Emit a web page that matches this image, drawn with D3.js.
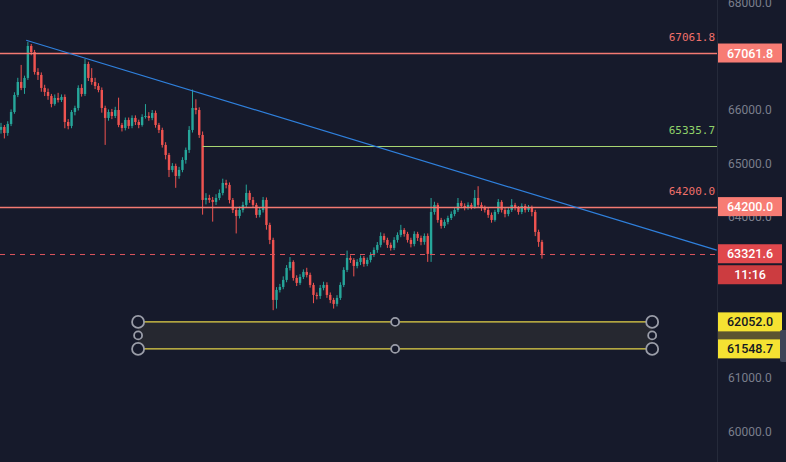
<!DOCTYPE html>
<html>
<head>
<meta charset="utf-8">
<script src="https://cdn.jsdelivr.net/npm/d3@7"></script>
<style>
  html, body { margin: 0; padding: 0; background: #161a2b; }
  svg { display: block; }
</style>
</head>
<body>
<div id="chart"></div>
<script>
// candles, open of first bar then each bar opens at previous close
const firstOpen = 65630;
const close = [
  65684, 65572, 65740, 65963, 66280, 66522, 66411, 66597, 67193, 67081,
  66709, 66653, 66411, 66336, 66262, 66113, 66224, 66187, 66243, 65777,
  65703, 65963, 66038, 66411, 66299, 66858, 66597, 66522, 66448, 66373,
  66038, 65852, 65963, 65889, 66000, 65721, 65665, 65814, 65703, 65852,
  65777, 65721, 65870, 65889, 65852, 65945, 65721, 65628, 65349, 65162,
  64883, 64957, 64771, 64883, 65069, 65256, 65628, 66038, 66000, 65535,
  64324, 64361, 64324, 64287, 64361, 64454, 64641, 64604, 64324, 64138,
  64026, 64138, 64231, 64454, 64324, 64231, 64045, 64138, 64324, 63858,
  63579, 62461, 62647, 62703, 62834, 63057, 63169, 62871, 62778, 62890,
  62983, 62927, 62740, 62554, 62535, 62685, 62740, 62554, 62461, 62387,
  62498, 62740, 63020, 63244, 63206, 63094, 63169, 63244, 63132, 63206,
  63300, 63393, 63486, 63653, 63579, 63486, 63430, 63579, 63672, 63765,
  63691, 63579, 63504, 63691, 63616, 63542, 63653, 63318, 64100, 64231,
  63951, 63840, 63914, 63988, 64063, 64138, 64268, 64212, 64175, 64231,
  64194, 64361, 64231, 64175, 64138, 64045, 63951, 64100, 64287, 64138,
  64063, 64138, 64231, 64175, 64100, 64212, 64138, 64175, 64100, 63728,
  63542, 63321.6
];
const high = [
  65760, 65720, 65790, 66010, 66330, 66600, 66840, 66640, 67270, 67230,
  67120, 66780, 66700, 66470, 66400, 66300, 66290, 66320, 66290, 66290,
  65830, 66000, 66080, 66460, 66480, 66950, 66900, 66780, 66600, 66500,
  66420, 66080, 66010, 66020, 66060, 66230, 65760, 65860, 65860, 65900,
  65900, 65820, 65920, 66110, 65960, 66000, 65990, 65760, 65670, 65400,
  65200, 65010, 65000, 64940, 65120, 65300, 65700, 66380, 66200, 66050,
  65600, 64450, 64420, 64380, 64430, 64520, 64720, 64700, 64650, 64360,
  64180, 64200, 64290, 64610, 64500, 64380, 64270, 64190, 64380, 64370,
  63900, 63620, 62700, 62760, 62900, 63110, 63260, 63200, 62920, 62940,
  63030, 63060, 62970, 62780, 62600, 62740, 62800, 62790, 62600, 62500,
  62550, 62790, 63070, 63380, 63290, 63240, 63220, 63290, 63280, 63250,
  63350, 63440, 63540, 63720, 63700, 63620, 63530, 63630, 63720, 63860,
  63800, 63730, 63620, 63740, 63730, 63660, 63700, 63700, 64360, 64290,
  64270, 63990, 63960, 64030, 64110, 64180, 64360, 64310, 64260, 64280,
  64270, 64510, 64580, 64280, 64220, 64180, 64090, 64140, 64340, 64320,
  64180, 64190, 64340, 64270, 64210, 64260, 64250, 64230, 64220, 64140,
  63770, 63580
];
const low = [
  65560, 65470, 65520, 65700, 65930, 66240, 66370, 66300, 66560, 67020,
  66660, 66560, 66340, 66260, 66190, 66050, 66080, 66140, 66150, 65660,
  65640, 65660, 65900, 65990, 66250, 66260, 66540, 66470, 66390, 66330,
  65950, 65350, 65800, 65830, 65850, 65680, 65600, 65620, 65650, 65660,
  65720, 65660, 65690, 65840, 65800, 65810, 65670, 65570, 65300, 65080,
  64750, 64840, 64550, 64720, 64840, 65000, 65200, 65580, 65920, 65480,
  64050, 64240, 64270, 63920, 64230, 64320, 64410, 64540, 64260, 64080,
  63700, 63980, 64090, 64190, 64270, 64180, 63990, 64000, 64090, 63770,
  63500, 62270, 62300, 62600, 62660, 62790, 63010, 62820, 62720, 62740,
  62850, 62880, 62690, 62400, 62470, 62480, 62640, 62500, 62400, 62300,
  62340, 62460, 62700, 62980, 63150, 62900, 63050, 63110, 63080, 63090,
  63160, 63260, 63340, 63440, 63530, 63430, 63380, 63390, 63530, 63630,
  63640, 63530, 63440, 63460, 63560, 63480, 63490, 63170, 63170, 64050,
  63900, 63790, 63800, 63870, 63950, 64020, 64100, 64170, 64130, 64140,
  64150, 64160, 64190, 64120, 64090, 63990, 63900, 63920, 64060, 64090,
  64000, 64020, 64100, 64130, 64050, 64060, 64090, 64100, 64020, 63650,
  63450, 63230
];

// price scale ticks (67000, 63000, 62000 sit under the tags)
const ticks = [68000, 66000, 65000, 64000, 61000, 60000];

// drawings
const resistA = 67061.8;
const resistB = 64200.0;
const greenLevel = 65335.7;
const greenStart = 60;          // bar index where the green level starts
const lastPrice = 63321.6;
const countdown = "11:16";
const trend = [{ i: 7.5, p: 67300 }, { i: 213, p: 63390 }];
const rangeTop = 62052.0;
const rangeBottom = 61548.7;
const rangeFrom = 40.8, rangeTo = 193.8;

const W = 786, H = 462;
const plotRight = 717;
const bg = "#161a2b";
const up = "#26a69a", down = "#ef5350";

const candles = close.map((c, i) => ({
  i, o: i === 0 ? firstOpen : close[i - 1], c, h: high[i], l: low[i]
}));

const x = d3.scaleLinear().domain([0, close.length - 1]).range([1, 1 + 3.36 * (close.length - 1)]);
const y = d3.scaleLinear().domain([60000, 68000]).range([432, 2.67]);

const svg = d3.select("#chart").append("svg")
  .attr("width", W).attr("height", H);

svg.append("rect").attr("width", W).attr("height", H).attr("fill", bg);

svg.append("defs").append("clipPath").attr("id", "plot")
  .append("rect").attr("x", 0).attr("y", 0).attr("width", plotRight).attr("height", H);

const plot = svg.append("g").attr("clip-path", "url(#plot)");

// candles
const bars = plot.append("g").selectAll("g").data(candles).enter().append("g");
bars.append("line")
  .attr("x1", d => x(d.i)).attr("x2", d => x(d.i))
  .attr("y1", d => y(d.h)).attr("y2", d => y(d.l))
  .attr("stroke", d => d.c >= d.o ? up : down)
  .attr("stroke-width", 1);
bars.append("rect")
  .attr("x", d => x(d.i) - 1.2)
  .attr("width", 2.4)
  .attr("y", d => y(Math.max(d.o, d.c)))
  .attr("height", d => Math.max(1, Math.abs(y(d.o) - y(d.c))))
  .attr("fill", d => d.c >= d.o ? up : down);

// horizontal levels
const salmon = "#f47a72";
[resistA, resistB].forEach(p => {
  plot.append("line").attr("x1", 0).attr("x2", plotRight)
    .attr("y1", Math.round(y(p)) + 0.5).attr("y2", Math.round(y(p)) + 0.5)
    .attr("stroke", salmon).attr("stroke-width", 1.3);
  plot.append("text").attr("x", 715).attr("y", y(p) - 12)
    .attr("text-anchor", "end")
    .attr("font-family", "DejaVu Sans Mono").attr("font-size", 11)
    .attr("fill", "#f0706a").text(p.toFixed(1));
});

plot.append("line").attr("x1", x(greenStart)).attr("x2", plotRight)
  .attr("y1", Math.round(y(greenLevel)) + 0.5).attr("y2", Math.round(y(greenLevel)) + 0.5)
  .attr("stroke", "#a8d672").attr("stroke-width", 1);
plot.append("text").attr("x", 715).attr("y", y(greenLevel) - 12)
  .attr("text-anchor", "end")
  .attr("font-family", "DejaVu Sans Mono").attr("font-size", 11)
  .attr("fill", "#8fd16a").text(greenLevel.toFixed(1));

// last price dashed line
plot.append("line").attr("x1", 0).attr("x2", plotRight)
  .attr("y1", Math.round(y(lastPrice)) + 0.5).attr("y2", Math.round(y(lastPrice)) + 0.5)
  .attr("stroke", "#d9525a").attr("stroke-width", 1)
  .attr("stroke-dasharray", "5,5");

// trend line
plot.append("line")
  .attr("x1", x(trend[0].i)).attr("y1", y(trend[0].p))
  .attr("x2", x(trend[1].i)).attr("y2", y(trend[1].p))
  .attr("stroke", "#2f80dd").attr("stroke-width", 1.2);

// price range drawing
const yt = y(rangeTop), yb = y(rangeBottom);
const rx0 = x(rangeFrom), rx1 = x(rangeTo), rxm = (rx0 + rx1) / 2;
plot.append("rect").attr("x", rx0).attr("y", yt).attr("width", rx1 - rx0).attr("height", yb - yt)
  .attr("fill", "#262830");
[yt, yb].forEach(v => {
  plot.append("line").attr("x1", rx0).attr("x2", rx1).attr("y1", v).attr("y2", v)
    .attr("stroke", "#e6d448").attr("stroke-width", 1.2);
});
const handles = [
  [rx0, yt, 6], [rx0, yb, 6], [rx1, yt, 6], [rx1, yb, 6],
  [rx0, (yt + yb) / 2, 4], [rx1, (yt + yb) / 2, 4], [rxm, yt, 4], [rxm, yb, 4]
];
plot.append("g").selectAll("circle").data(handles).enter().append("circle")
  .attr("cx", d => d[0]).attr("cy", d => d[1]).attr("r", d => d[2])
  .attr("fill", bg).attr("stroke", "#9a9da8").attr("stroke-width", 1.8);

// right price axis
const axisG = svg.append("g");
axisG.append("line").attr("x1", plotRight + 0.5).attr("x2", plotRight + 0.5)
  .attr("y1", 0).attr("y2", H).attr("stroke", "#252a3a");
axisG.selectAll(".tick").data(ticks).enter().append("text")
  .attr("x", 728).attr("y", d => y(d) + 4)
  .attr("font-family", "Roboto").attr("font-size", 12)
  .attr("fill", "#7a7e8c").text(d => d.toFixed(1));

function tag(p, fill, color, label, dy) {
  const cy = y(p) + (dy || 0);
  axisG.append("rect").attr("x", plotRight + 1).attr("y", cy - 9.5).attr("width", 64).attr("height", 19)
    .attr("fill", fill);
  axisG.append("text").attr("x", plotRight + 33).attr("y", cy + 4.5)
    .attr("text-anchor", "middle")
    .attr("font-family", "Roboto").attr("font-size", 12.5).attr("font-weight", 500)
    .attr("fill", color).text(label);
}
tag(resistA, "#f77c74", "#ffffff", resistA.toFixed(1));
tag(resistB, "#f77c74", "#ffffff", resistB.toFixed(1));
// band between range tags
axisG.append("rect").attr("x", plotRight + 1).attr("y", yt).attr("width", 64).attr("height", yb - yt)
  .attr("fill", "#5b5330");
tag(rangeTop, "#f5e232", "#131722", rangeTop.toFixed(1));
tag(rangeBottom, "#f5e232", "#131722", rangeBottom.toFixed(1));
tag(lastPrice, "#e0484d", "#ffffff", lastPrice.toFixed(1));
tag(lastPrice, "#cc3c40", "#ffffff", countdown, 21);

// small tab at the far right
axisG.append("rect").attr("x", 780).attr("y", 330).attr("width", 8).attr("height", 32).attr("rx", 2)
  .attr("fill", "#3d4457");
</script>
</body>
</html>
